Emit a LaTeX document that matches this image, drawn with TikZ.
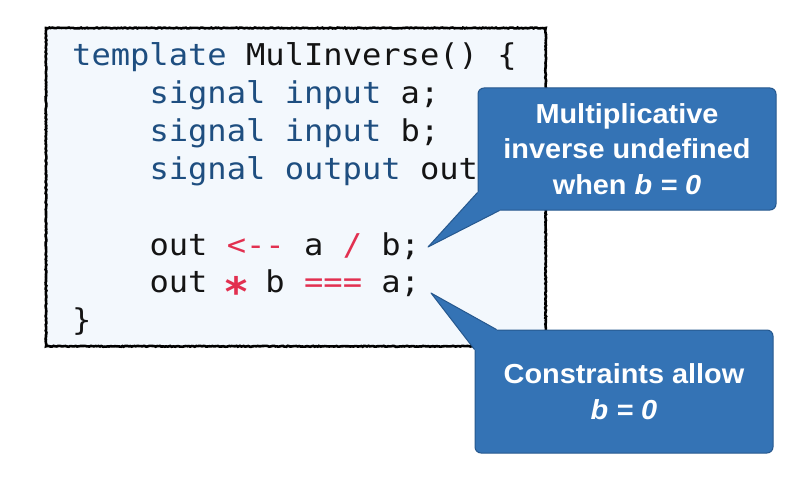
\documentclass[tikz,border=0pt]{standalone}
\usepackage{fontspec}
\setmonofont[FakeStretch=1.07]{DejaVu Sans Mono}
\newfontfamily\notefont[FakeStretch=1.05]{Liberation Sans}
\usetikzlibrary{decorations.pathmorphing}

\definecolor{kwblue}{RGB}{30,78,128}
\definecolor{opred}{RGB}{226,48,80}
\definecolor{codebg}{RGB}{243,248,253}
\definecolor{notebg}{RGB}{52,115,181}
\definecolor{noteedge}{RGB}{38,88,142}

\newcommand{\kw}[1]{\textcolor{kwblue}{#1}}
\newcommand{\op}[1]{\textcolor{opred}{#1}}
\newcommand{\mulop}{\makebox[\fontcharwd\font`\*]{\raisebox{-0.44em}{\scalebox{1.35}{\bfseries *}}}}

\tikzset{
  codebox/.style={draw=black, line width=2.6pt, fill=codebg,
    decorate, decoration={random steps, segment length=1.5pt, amplitude=0.45pt},
    minimum width=499.7pt, minimum height=318.3pt, inner sep=0pt},
  codeline/.style={anchor=base west, inner sep=0pt,
    font=\ttfamily\fontsize{30}{38}\selectfont, text=black!92},
  note/.style={draw=noteedge, line width=1pt, fill=notebg, rounded corners=6pt,
    minimum width=298pt, minimum height=122pt, inner sep=0pt, align=center,
    text=white, font=\notefont\bfseries\fontsize{27.5}{35.5}\selectfont},
  notefill/.style={fill=notebg},
  noteline/.style={draw=noteedge, line width=1pt, line join=round},
}

\begin{document}
\begin{tikzpicture}[x=1pt, y=-1pt]
  \useasboundingbox (0,0) rectangle (792,484);

  % code listing
  \node[codebox] (listing) at (295.85,187.15) {};
  \node[codeline] (l1) at (72,65.5)    {\kw{template} MulInverse() \{};
  \node[codeline] (l2) at (149.3,103.4) {\kw{signal input} a;};
  \node[codeline] (l3) at (149.3,141.3) {\kw{signal input} b;};
  \node[codeline] (l4) at (149.3,179.2) {\kw{signal output} out;};
  \node[codeline] (l6) at (149.3,255)   {out \op{<-{}-} a \op{/} b;};
  \node[codeline] (l7) at (149.3,292.9) {out \op{\mulop} b \op{===} a;};
  \node[codeline] (l8) at (72,330.8)   {\}};

  % callouts
  \coordinate (divtip) at (428,247);
  \coordinate (eqtip) at (431,293);

  \node[note] (divnote) at (627,149)
    {Multiplicative\\inverse undefined\\when \textit{b = 0}};
  \fill[notefill] (divtip) -- ([yshift=18pt]divnote.south west)
    -- ([xshift=30pt,yshift=30pt]divnote.south west)
    -- ([xshift=22pt]divnote.south west) -- cycle;
  \draw[noteline] ([yshift=18pt]divnote.south west) -- (divtip)
    -- ([xshift=22pt]divnote.south west);

  \node[note, minimum height=123pt] (eqnote) at (624,391.5)
    {Constraints allow\\\textit{b = 0}};
  \fill[notefill] (eqtip) -- ([xshift=22pt]eqnote.north west)
    -- ([xshift=30pt,yshift=-30pt]eqnote.north west)
    -- ([yshift=-20pt]eqnote.north west) -- cycle;
  \draw[noteline] ([xshift=22pt]eqnote.north west) -- (eqtip)
    -- ([yshift=-20pt]eqnote.north west);
\end{tikzpicture}
\end{document}
